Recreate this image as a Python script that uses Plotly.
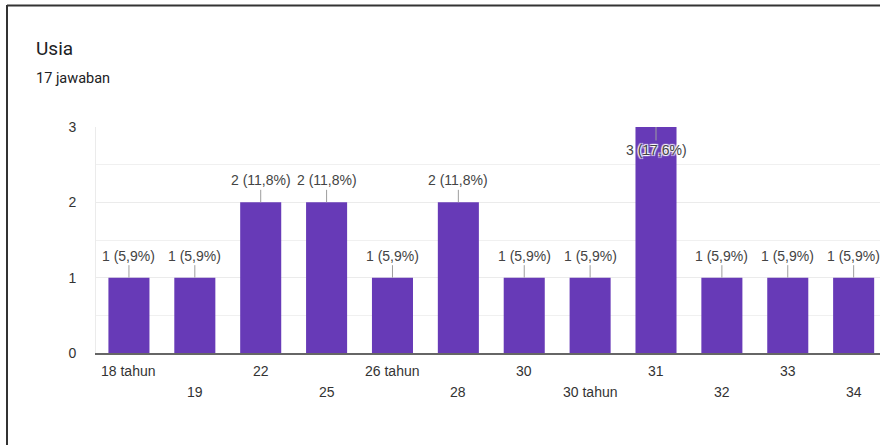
import plotly.graph_objects as go

categories = ["18 tahun", "19", "22", "25", "26 tahun", "28", "30", "30 tahun", "31", "32", "33", "34"]
counts = [1, 1, 2, 2, 1, 2, 1, 1, 3, 1, 1, 1]
total = 17
y_ticks = [0, 1, 2, 3]

W, H = 880, 445
L, R, T, B = 96, 0, 127, 92
pw, ph = W - L - R, H - T - B

def px_x(p):
    return (p - L) / pw

def px_y(p):
    return (H - B - p) / ph

FONT = "Arial, 'Liberation Sans', sans-serif"
TFONT = "Roboto, Arial, sans-serif"

fig = go.Figure()
fig.add_trace(go.Bar(
    x=list(range(len(categories))), y=counts,
    marker=dict(color="#673ab7", line=dict(width=0)),
    hoverinfo="skip",
))

annotations = []
for i, (c, v) in enumerate(zip(categories, counts)):
    pct = f"{v / total * 100:.1f}".replace(".", ",")
    inside = v >= max(y_ticks)
    annotations.append(dict(
        x=i, y=v, xref="x", yref="y",
        text=f"{v} ({pct}%)",
        showarrow=True, arrowhead=0, arrowwidth=1, arrowcolor="#9e9e9e",
        ax=0, ay=23 if inside else -22,
        font=dict(family=FONT, size=14, color="#444444",
                  shadow="1px 1px 1px #fff, -1px -1px 1px #fff, 1px -1px 1px #fff, -1px 1px 1px #fff" if inside else "none"),
    ))
    annotations.append(dict(
        x=i, y=0, xref="x", yref="y",
        text=c, showarrow=False,
        yanchor="middle", yshift=-18 if i % 2 == 0 else -39,
        font=dict(family=FONT, size=14, color="#333333"),
    ))

annotations.append(dict(
    x=px_x(34), y=px_y(49), xref="paper", yref="paper",
    text="Usia", showarrow=False, xanchor="left", yanchor="middle",
    font=dict(family=TFONT, size=19, color="#202124"),
))
annotations.append(dict(
    x=px_x(34), y=px_y(78), xref="paper", yref="paper",
    text="17 jawaban", showarrow=False, xanchor="left", yanchor="middle",
    font=dict(family=TFONT, size=14.5, color="#202124"),
))

shapes = [
    dict(type="line", xref="paper", yref="paper",
         x0=px_x(7), x1=px_x(880), y0=px_y(5.5), y1=px_y(5.5),
         line=dict(color="#333333", width=2)),
    dict(type="line", xref="paper", yref="paper",
         x0=px_x(7), x1=px_x(7), y0=px_y(5), y1=px_y(445),
         line=dict(color="#333333", width=2)),
]

fig.update_layout(
    width=W, height=H,
    margin=dict(l=L, r=R, t=T, b=B, pad=0),
    paper_bgcolor="white", plot_bgcolor="white",
    showlegend=False, bargap=0.377,
    annotations=annotations, shapes=shapes,
    font=dict(family=FONT, color="#333333"),
)
fig.update_xaxes(
    range=[-0.5, 11.4], showticklabels=False, showgrid=False, zeroline=False,
    showline=True, linecolor="#666666", linewidth=1.5, ticks="",
    fixedrange=True,
)
fig.update_yaxes(
    range=[0, 3], tickvals=y_ticks, ticktext=[str(t) for t in y_ticks],
    showgrid=True, gridcolor="#ebebeb", gridwidth=1, zeroline=False,
    minor=dict(dtick=0.5, showgrid=True, gridcolor="#f0f0f0"),
    showline=True, linecolor="#ebebeb", linewidth=1,
    ticks="outside", ticklen=16, tickcolor="rgba(0,0,0,0)",
    tickfont=dict(family=FONT, size=14, color="#333333"),
    fixedrange=True,
)

fig.write_html("out.html")
